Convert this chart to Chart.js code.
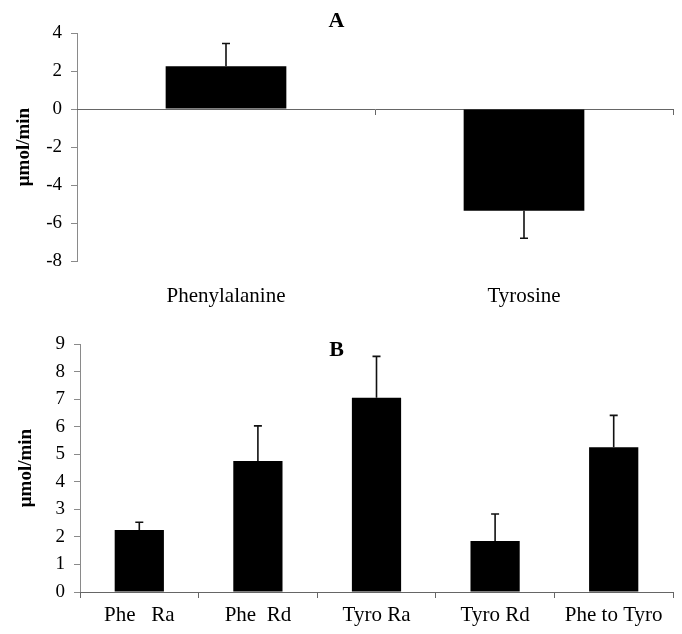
<!DOCTYPE html>
<html>
<head>
<meta charset="utf-8">
<script src="https://cdn.jsdelivr.net/npm/chart.js@4"></script>
<style>
  body { margin: 0; background: #fff; }
  #wrap { position: relative; width: 682px; height: 634px; }
  canvas { position: absolute; left: 0; }
  #chartA { top: 0; }
  #chartB { top: 320px; }
</style>
</head>
<body>
<div id="wrap">
  <canvas id="chartA" width="682" height="320"></canvas>
  <canvas id="chartB" width="682" height="314"></canvas>
</div>
<script>
// Panel A: net balance
const labelsA = ['Phenylalanine', 'Tyrosine'];
const valuesA = [2.25, -5.35];
const errorsA = [1.2, 1.45];
const ticksA = { min: -8, max: 4, step: 2 };

// Panel B: kinetics
const labelsB = ['Phe   Ra', 'Phe  Rd', 'Tyro Ra', 'Tyro Rd', 'Phe to Tyro'];
const valuesB = [2.25, 4.75, 7.05, 1.85, 5.25];
const errorsB = [0.28, 1.28, 1.5, 0.98, 1.16];
const ticksB = { min: 0, max: 9, step: 1 };

const FONT = "'Liberation Serif', 'Times New Roman', serif";
const AXIS_GREY = '#8a8a8a';

// one-sided error bars, drawn in the direction of the bar
const errorBars = {
  id: 'errorBars',
  afterDatasetsDraw(chart) {
    const { ctx } = chart;
    const yScale = chart.scales.y;
    const errs = chart.options.plugins.errorBars.errors;
    chart.getDatasetMeta(0).data.forEach((bar, i) => {
      const v = chart.data.datasets[0].data[i];
      const end = v >= 0 ? v + errs[i] : v - errs[i];
      const y0 = yScale.getPixelForValue(v);
      const y1 = yScale.getPixelForValue(end);
      ctx.save();
      ctx.strokeStyle = '#111';
      ctx.lineWidth = 1.6;
      ctx.beginPath();
      ctx.moveTo(bar.x, y0);
      ctx.lineTo(bar.x, y1);
      ctx.moveTo(bar.x - 4, y1);
      ctx.lineTo(bar.x + 4, y1);
      ctx.stroke();
      ctx.restore();
    });
  }
};

function yAxis(t, width, titlePad) {
  return {
    min: t.min,
    max: t.max,
    ticks: { stepSize: t.step, color: '#000', font: { family: FONT, size: 19 }, padding: 9 },
    grid: { drawOnChartArea: false, tickLength: 6, color: AXIS_GREY },
    border: { color: AXIS_GREY },
    title: {
      display: true,
      text: 'μmol/min',
      color: '#000',
      font: { family: FONT, size: 19, weight: 'bold' },
      padding: { top: titlePad, bottom: 0 }
    },
    afterFit: s => { s.width = width; }
  };
}

new Chart(document.getElementById('chartA'), {
  type: 'bar',
  data: {
    labels: labelsA,
    datasets: [{
      data: valuesA,
      backgroundColor: '#000',
      borderWidth: 0,
      categoryPercentage: 1,
      barPercentage: 0.405
    }]
  },
  options: {
    responsive: false,
    animation: false,
    devicePixelRatio: 1,
    layout: { padding: { left: 0, right: 9, top: 0, bottom: 0 } },
    scales: {
      y: yAxis(ticksA, 77, 13),
      x: {
        position: { y: 0 },
        ticks: { display: false },
        grid: { drawOnChartArea: false, tickLength: 5, color: '#666' },
        border: { color: '#666' }
      },
      xl: {
        type: 'category',
        position: 'bottom',
        grid: { display: false, drawTicks: false },
        border: { display: false },
        ticks: { color: '#000', font: { family: FONT, size: 21 }, padding: 23 },
        afterFit: s => { s.height = 59; }
      }
    },
    plugins: {
      legend: { display: false },
      tooltip: { enabled: false },
      title: {
        display: true,
        text: 'A',
        color: '#000',
        font: { family: FONT, size: 22, weight: 'bold' },
        padding: { top: 8, bottom: -1.4 }
      },
      errorBars: { errors: errorsA }
    }
  },
  plugins: [errorBars]
});

new Chart(document.getElementById('chartB'), {
  type: 'bar',
  data: {
    labels: labelsB,
    datasets: [{
      data: valuesB,
      backgroundColor: '#000',
      borderWidth: 0,
      categoryPercentage: 1,
      barPercentage: 0.415
    }]
  },
  options: {
    responsive: false,
    animation: false,
    devicePixelRatio: 1,
    layout: { padding: { left: 0, right: 9, top: 0, bottom: 0 } },
    scales: {
      y: yAxis(ticksB, 80, 15),
      x: {
        position: 'bottom',
        grid: { drawOnChartArea: false, tickLength: 6, color: '#666' },
        border: { color: '#666' },
        ticks: { color: '#000', font: { family: FONT, size: 21 }, padding: 5 },
        afterFit: s => { s.height = 42; }
      }
    },
    plugins: {
      legend: { display: false },
      tooltip: { enabled: false },
      title: {
        display: true,
        text: 'B',
        color: '#000',
        font: { family: FONT, size: 22, weight: 'bold' },
        padding: { top: 17, bottom: -19.4 }
      },
      errorBars: { errors: errorsB }
    }
  },
  plugins: [errorBars]
});
</script>
</body>
</html>
